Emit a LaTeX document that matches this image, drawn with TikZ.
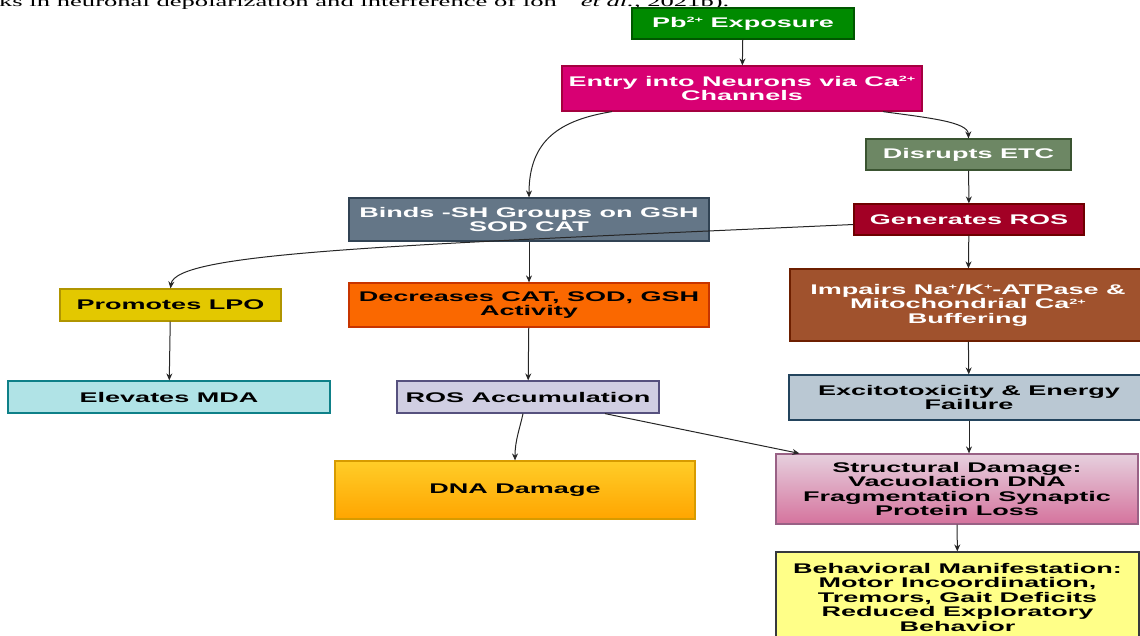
\documentclass[tikz,border=0pt]{standalone}
\usepackage{fontspec}
\newfontfamily\boxfont{Liberation Sans}[FakeStretch=1.93]
\newfontfamily\pagefont{Liberation Serif}[FakeStretch=1.9]
\usetikzlibrary{positioning, arrows.meta}

\definecolor{pbfill}{HTML}{008A00}\definecolor{pbline}{HTML}{005700}
\definecolor{entryfill}{HTML}{D80073}\definecolor{entryline}{HTML}{A50040}
\definecolor{etcfill}{HTML}{6D8764}\definecolor{etcline}{HTML}{3A5431}
\definecolor{bindfill}{HTML}{647687}\definecolor{bindline}{HTML}{314354}
\definecolor{rosfill}{HTML}{A20025}\definecolor{rosline}{HTML}{6F0000}
\definecolor{lpofill}{HTML}{E3C800}\definecolor{lpoline}{HTML}{B09500}
\definecolor{catfill}{HTML}{FA6800}\definecolor{catline}{HTML}{C73500}
\definecolor{atpfill}{HTML}{A0522D}\definecolor{atpline}{HTML}{6D1F00}
\definecolor{mdafill}{HTML}{B0E3E6}\definecolor{mdaline}{HTML}{0E8088}
\definecolor{accfill}{HTML}{D0CEE2}\definecolor{accline}{HTML}{56517E}
\definecolor{excfill}{HTML}{BAC8D3}\definecolor{excline}{HTML}{23445D}
\definecolor{dnatop}{HTML}{FFCD28}\definecolor{dnabot}{HTML}{FFA500}\definecolor{dnaline}{HTML}{D79B00}
\definecolor{strtop}{HTML}{E6D0DE}\definecolor{strbot}{HTML}{D5739D}\definecolor{strline}{HTML}{996185}
\definecolor{behfill}{HTML}{FFFF88}\definecolor{behline}{HTML}{36393D}

% tiny raised charges as in the figure
\newcommand{\ionsup}[1]{\raisebox{4.5pt}{\fontsize{7.5}{7.5}\selectfont #1}}

\tikzset{
  block/.style={draw, line width=1.2pt, align=center, inner sep=0pt,
    font=\boxfont\bfseries\fontsize{14}{14.5}\selectfont},
  flow/.style={draw=black!85, line width=1pt, -{Stealth[length=7pt, width=6pt]}},
}

\begin{document}
\begin{tikzpicture}[x=1pt, y=-1pt]
    \path[use as bounding box, clip] (0,0) rectangle (1140,635);
    % cut-off line of the page above
    \node (runin) [anchor=base west, inner sep=0pt, font=\pagefont\fontsize{14}{14}\selectfont] at (-1,6)
        {ks in neuronal depolarization and interference of ion\hspace{24pt}\textit{et al.,} 2021b).};

    \node (pb) [block, fill=pbfill, draw=pbline, text=white, minimum width=222pt, minimum height=31pt] at (743,23.5) {Pb\ionsup{2+} Exposure};
    \node (entry) [block, fill=entryfill, draw=entryline, text=white, minimum width=360pt, minimum height=45pt] at (742,88.5) {Entry into Neurons via Ca\ionsup{2+}\\Channels};
    \node (etc) [block, fill=etcfill, draw=etcline, text=white, minimum width=205pt, minimum height=31pt] at (968.5,154.5) {Disrupts ETC};
    \node (binds) [block, fill=bindfill, draw=bindline, text=white, minimum width=360pt, minimum height=43pt] at (529,219.5) {Binds -SH Groups on GSH\\SOD CAT};
    \node (ros) [block, fill=rosfill, draw=rosline, text=white, minimum width=230pt, minimum height=31pt] at (969,219.5) {Generates ROS};

    % middle row
    \node (lpo) [block, fill=lpofill, draw=lpoline, minimum width=221pt, minimum height=32pt] at (170.5,305) {Promotes LPO};
    \node (cat) [block, fill=catfill, draw=catline, minimum width=360pt, minimum height=44pt] at (529,305) {Decreases CAT, SOD, GSH\\Activity};
    \node (atpase) [block, fill=atpfill, draw=atpline, text=white, minimum width=356pt, minimum height=72pt] at (968,305) {Impairs Na\ionsup{+}/K\ionsup{+}-ATPase \&\\Mitochondrial Ca\ionsup{2+}\\Buffering};
    \node (mda) [block, fill=mdafill, draw=mdaline, minimum width=322pt, minimum height=32pt] at (169,397) {Elevates MDA};
    \node (accum) [block, fill=accfill, draw=accline, minimum width=262pt, minimum height=32pt] at (528,397) {ROS Accumulation};
    \node (excito) [block, fill=excfill, draw=excline, minimum width=360pt, minimum height=45pt] at (969,397.5) {Excitotoxicity \& Energy\\Failure};

    % damage and outcome
    \node (dna) [block, top color=dnatop, bottom color=dnabot, draw=dnaline, minimum width=360pt, minimum height=58pt] at (515,490) {DNA Damage};
    \node (struct) [block, top color=strtop, bottom color=strbot, draw=strline, minimum width=362pt, minimum height=70pt] at (957,489) {Structural Damage:\\Vacuolation DNA\\Fragmentation Synaptic\\Protein Loss};
    \node (behav) [block, fill=behfill, draw=behline, minimum width=363pt, minimum height=90pt] at (957.5,597) {Behavioral Manifestation:\\Motor Incoordination,\\Tremors, Gait Deficits\\Reduced Exploratory\\Behavior};

    % connectors
    \draw [flow] (pb) -- (entry);
    \draw [flow] ([xshift=-130pt]entry.south) .. controls (560,120) and (529,140) .. (binds.north);
    \draw [flow] ([xshift=141pt]entry.south) .. controls (930,118) and (968,122) .. (etc.north);
    \draw [flow] (etc) -- (ros);
    \draw [flow] ([yshift=-5pt]ros.west) .. controls (400,245) and (175,252) .. (lpo.north);
    \draw [flow] (binds) -- (cat);
    \draw [flow] (lpo) -- (mda);
    \draw [flow] (cat) -- (accum);
    \draw [flow] (ros) -- (atpase);
    \draw [flow] (atpase) -- (excito);
    \draw [flow] ([xshift=-5pt]accum.south) .. controls (520,428) and (515,440) .. (dna.north);
    \draw [flow] ([xshift=77pt]accum.south) -- ([xshift=24pt]struct.north west);
    \draw [flow] (excito.south) -- (excito.south |- struct.north);
    \draw [flow] (struct) -- (behav);
\end{tikzpicture}
\end{document}
